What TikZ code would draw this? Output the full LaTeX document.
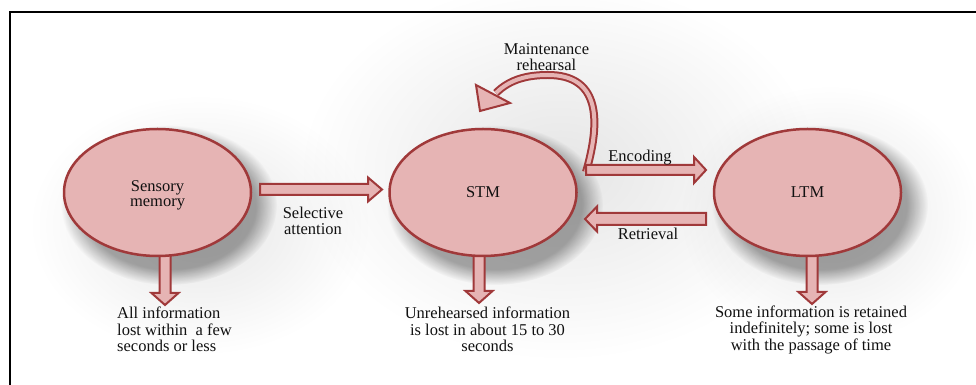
\documentclass[tikz,border=0pt]{standalone}
\usepackage{fontspec}
\setmainfont{Liberation Serif}
\newfontfamily\serifx{Liberation Serif}
\usetikzlibrary{shapes.geometric,calc,fadings}
\definecolor{dred}{HTML}{A0393A}
\definecolor{pinkf}{HTML}{E6B4B4}
\definecolor{txtc}{HTML}{111111}
\tikzfading[name=haze, inner color=transparent!0, outer color=transparent!100]
\newcommand\txtsize{\serifx\fontsize{16.5}{16.5}\selectfont}
\tikzset{
  mem/.style={ellipse, draw=dred, line width=2.5pt, fill=pinkf,
    minimum width=187pt, minimum height=127pt, inner sep=0pt,
    align=center, font=\txtsize, text=txtc},
  lbl/.style={font=\txtsize, align=center, inner sep=0pt, text=txtc},
  blk/.style={draw=dred, line width=2pt, fill=pinkf, line join=miter},
  shad/.style={black, opacity=0.34, path fading=circle with fuzzy edge 20 percent},
  hz/.style={black, opacity=0.10, path fading=haze},
}
% block arrow: #1 start, #2 tip, #3 shaft half width, #4 head half width, #5 head length
\newcommand\blockarrow[5]{%
  \coordinate (tmpN) at ($(#2)!#5!(#1)$);
  \draw[blk] ($(#1)!#3!90:(#2)$) -- ($(tmpN)!#3!-90:(#1)$) -- ($(tmpN)!#4!-90:(#1)$)
    -- (#2) -- ($(tmpN)!#4!90:(#1)$) -- ($(tmpN)!#3!90:(#1)$)
    -- ($(#1)!#3!-90:(#2)$) -- cycle;}
\begin{document}
\begin{tikzpicture}[x=1pt,y=1pt]
\useasboundingbox (0,0) rectangle (976,385);
\fill[white] (0,0) rectangle (976,385);
% soft background haze
\fill[hz] (560,215) ellipse (260 and 190);
\fill[hz] (830,170) ellipse (150 and 130);
\fill[hz] (200,160) ellipse (170 and 130);
% shadows of the memory stores
\fill[shad] (169,180) ellipse (108 and 80);
\fill[shad] (495,180) ellipse (108 and 80);
\fill[shad] (820,180) ellipse (108 and 80);

% free ends of the connectors
\coordinate (selS) at (260,195.5);
\coordinate (selE) at (382,195.5);
\coordinate (encS) at (586,215);
\coordinate (encE) at (706,215);
\coordinate (retS) at (706,166);
\coordinate (retE) at (585,166);
\coordinate (sensS) at (165,170);
\coordinate (sensE) at (165,80);
\coordinate (stmS) at (479,170);
\coordinate (stmE) at (479,82);
\coordinate (ltmS) at (812,170);
\coordinate (ltmE) at (812,81);
\coordinate (mrS) at (586,213);
\coordinate (mrTop) at (548,310);
\coordinate (mrB) at (496,292);
\coordinate (mrW1) at (476,300);
\coordinate (mrW2) at (510,282);
\coordinate (mrTip) at (480,274);

% downward arrows (drawn below the ellipses)
\blockarrow{sensS}{sensE}{5.5pt}{13.5pt}{12pt}
\blockarrow{stmS}{stmE}{5.5pt}{13.5pt}{12pt}
\blockarrow{ltmS}{ltmE}{5.5pt}{13.5pt}{12pt}

% memory stores
\node[mem] (sens) at (157.5,192.5) {};
\node[lbl, font=\serifx\fontsize{16.5}{15}\selectfont] (sensL) at ($(sens.center)+(0,-3)$) {Sensory\\memory};
\node[mem] (stm) at (483,192.5) {STM};
\node[mem] (ltm) at (807.5,192.5) {LTM};

% maintenance rehearsal loop
\draw[draw=dred, line width=2pt, double=pinkf, double distance=4pt]
  (mrS) .. controls (602,268) and (598,310) .. (mrTop)
        .. controls (528,310) and (510,306) .. (mrB);
\draw[blk] (mrW1) -- (mrW2) -- (mrTip) -- cycle;

% horizontal arrows
\blockarrow{selS}{selE}{5.5pt}{12pt}{14pt}
\blockarrow{encS}{encE}{5pt}{13pt}{12pt}
\blockarrow{retS}{retE}{6pt}{12.5pt}{12pt}

% labels
\node[lbl] (selT) at (313,164) {Selective\\attention};
\node[lbl, anchor=base] (encT) at (640,223) {Encoding};
\node[lbl, anchor=base] (retT) at (648,145) {Retrieval};
\node[lbl] (mrT) at (546.5,328) {Maintenance\\rehearsal};
\node[lbl, align=left, anchor=west] (sensT) at (117,55.5) {All information\\lost within\ \ a few\\seconds or less};
\node[lbl] (stmT) at (487.5,55.5) {Unrehearsed information\\is lost in about 15 to 30\\seconds};
\node[lbl] (ltmT) at (811,55.5) {Some information is retained\\indefinitely; some is lost\\with the passage of time};

% frame
\draw[line width=2pt, black] (10,0) -- (10,373) -- (976,373);
\end{tikzpicture}
\end{document}
